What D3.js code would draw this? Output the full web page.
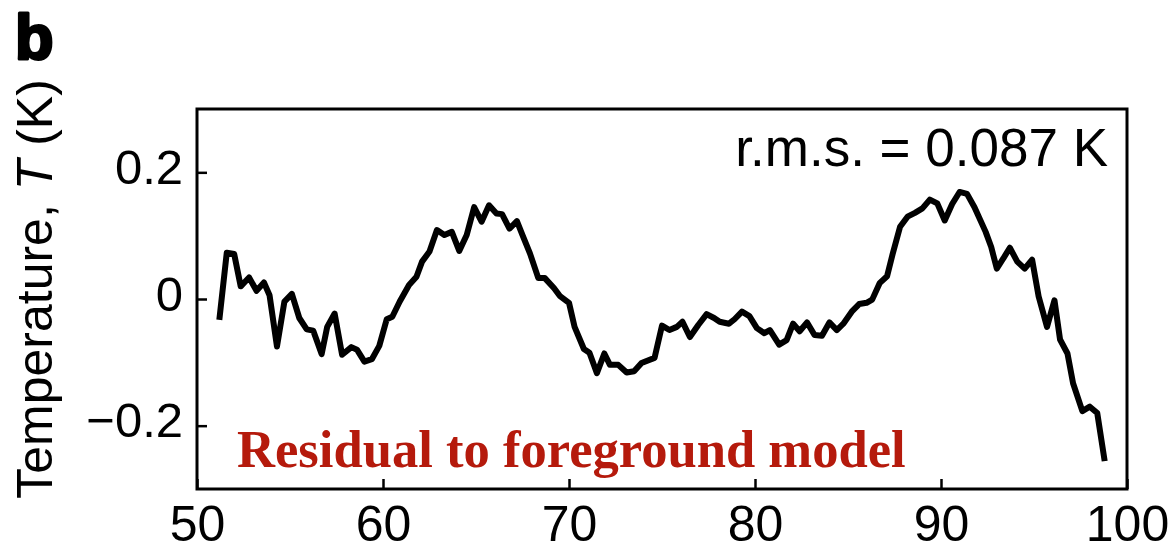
<!DOCTYPE html>
<html>
<head>
<meta charset="utf-8">
<script src="https://cdn.jsdelivr.net/npm/d3@7"></script>
<style>
  html, body { margin: 0; padding: 0; background: #fff; }
  svg { display: block; }
</style>
</head>
<body>
<svg id="chart" width="1176" height="554"></svg>
<script>
// ---- data ----
const freq = [
  51.2, 51.6, 52.0, 52.35, 52.8, 53.2, 53.6, 53.9, 54.3, 54.7, 55.1, 55.5, 55.9, 56.25, 56.7,
  57.0, 57.4, 57.8, 58.3, 58.6, 59.0, 59.4, 59.8, 60.2, 60.5, 60.9, 61.4, 61.8, 62.1, 62.5,
  62.9, 63.3, 63.7, 64.1, 64.5, 64.9, 65.3, 65.7, 66.1, 66.4, 66.8, 67.2, 67.5, 67.9, 68.35,
  68.7, 69.2, 69.5, 70.0, 70.3, 70.8, 71.1, 71.5, 71.9, 72.2, 72.65, 73.1, 73.5, 73.9, 74.6,
  75.0, 75.4, 75.8, 76.1, 76.5, 76.95, 77.4, 77.8, 78.1, 78.6, 78.9, 79.3, 79.7, 80.1, 80.5,
  80.8, 81.3, 81.7, 82.05, 82.4, 82.8, 83.2, 83.6, 84.0, 84.4, 84.75, 85.2, 85.6, 86.0, 86.3,
  86.7, 87.1, 87.4, 87.8, 88.2, 88.6, 89.0, 89.4, 89.8, 90.2, 90.6, 91.0, 91.4, 91.8, 92.4,
  92.7, 93.0, 93.35, 93.7, 94.1, 94.5, 94.9, 95.25, 95.7, 96.1, 96.4, 96.8, 97.1, 97.6, 98.0,
  98.4, 98.8
];
const temperature = [
  -0.033, 0.073, 0.071, 0.020, 0.034, 0.013, 0.026, 0.006, -0.075, -0.004, 0.008, -0.030, -0.048, -0.050, -0.087,
  -0.044, -0.023, -0.088, -0.076, -0.080, -0.099, -0.095, -0.074, -0.032, -0.028, -0.004, 0.022, 0.035, 0.059, 0.075,
  0.109, 0.101, 0.106, 0.076, 0.101, 0.145, 0.122, 0.148, 0.135, 0.134, 0.111, 0.123, 0.101, 0.072, 0.033,
  0.033, 0.017, 0.005, -0.006, -0.044, -0.079, -0.085, -0.117, -0.086, -0.104, -0.104, -0.116, -0.114, -0.101, -0.093,
  -0.042, -0.049, -0.044, -0.036, -0.060, -0.041, -0.024, -0.030, -0.036, -0.039, -0.032, -0.020, -0.027, -0.046, -0.054,
  -0.049, -0.072, -0.065, -0.039, -0.051, -0.037, -0.057, -0.058, -0.037, -0.049, -0.039, -0.020, -0.008, -0.006, -0.001,
  0.025, 0.036, 0.071, 0.114, 0.130, 0.136, 0.143, 0.157, 0.151, 0.124, 0.150, 0.169, 0.166, 0.145, 0.106,
  0.082, 0.048, 0.064, 0.081, 0.059, 0.048, 0.062, 0.004, -0.044, -0.002, -0.064, -0.086, -0.133, -0.177, -0.170,
  -0.180, -0.256
];
const xTicks = [50, 60, 70, 80, 90, 100];
const xTickLabels = ["50", "60", "70", "80", "90", "100"];
const yTicks = [-0.2, 0, 0.2];
const yTickLabels = ["\u22120.2", "0", "0.2"];
const panelLabel = "b";
const rmsLabel = "r.m.s. = 0.087 K";
const noteLabel = "Residual to foreground model";

// ---- layout ----
const svg = d3.select("#chart");
const L = 197, R = 1127, T = 109, B = 489;
const sans = "'Liberation Sans', Arial, Helvetica, sans-serif";
const serif = "'Liberation Serif', 'Times New Roman', serif";

const x = d3.scaleLinear().domain([50, 100]).range([L, R]);
const y = d3.scaleLinear().domain([-0.3, 0.3]).range([B, T]);

// data line
const pts = freq.map((f, i) => [f, temperature[i]]);
svg.append("path")
  .datum(pts)
  .attr("fill", "none")
  .attr("stroke", "#000")
  .attr("stroke-width", 6)
  .attr("stroke-linejoin", "round")
  .attr("stroke-linecap", "butt")
  .attr("d", d3.line().x(d => x(d[0])).y(d => y(d[1])));

// axes (ticks inward)
const xAxis = d3.axisBottom(x).tickValues(xTicks)
  .tickFormat((d, i) => xTickLabels[i]).tickSizeInner(-10).tickSizeOuter(0);
const gx = svg.append("g").attr("transform", `translate(0,${B})`).call(xAxis);
gx.select(".domain").remove();
gx.selectAll(".tick line").attr("stroke-width", 2.5);
gx.selectAll(".tick text")
  .attr("y", 52).attr("dy", 0)
  .attr("font-family", sans).attr("font-size", 50).attr("fill", "#000");

const yAxis = d3.axisLeft(y).tickValues(yTicks)
  .tickFormat((d, i) => yTickLabels[i]).tickSizeInner(-10).tickSizeOuter(0);
const gy = svg.append("g").attr("transform", `translate(${L},0)`).call(yAxis);
gy.select(".domain").remove();
gy.selectAll(".tick line").attr("stroke-width", 2.5);
gy.selectAll(".tick text")
  .attr("x", -14).attr("dy", 11)
  .attr("font-family", sans).attr("font-size", 49).attr("fill", "#000");

// frame
svg.append("rect")
  .attr("x", L).attr("y", T).attr("width", R - L).attr("height", B - T)
  .attr("fill", "none").attr("stroke", "#000").attr("stroke-width", 3);

// texts
svg.append("text").attr("x", 15).attr("y", 59)
  .attr("font-family", sans).attr("font-weight", 900).attr("font-size", 63)
  .attr("stroke", "#000").attr("stroke-width", 3).attr("stroke-linejoin", "round")
  .text(panelLabel);

svg.append("text").attr("x", 1108).attr("y", 166).attr("text-anchor", "end")
  .attr("font-family", sans).attr("font-size", 53)
  .text(rmsLabel);

svg.append("text").attr("x", 237).attr("y", 467)
  .attr("font-family", serif).attr("font-weight", "bold").attr("font-size", 52.6)
  .attr("fill", "#b51a0c")
  .text(noteLabel);

const yl = svg.append("text")
  .attr("transform", "translate(52,289) rotate(-90)")
  .attr("text-anchor", "middle")
  .attr("font-family", sans).attr("font-size", 50);
yl.append("tspan").text("Temperature, ");
yl.append("tspan").attr("font-style", "italic").text("T");
yl.append("tspan").text(" (K)");
</script>
</body>
</html>
